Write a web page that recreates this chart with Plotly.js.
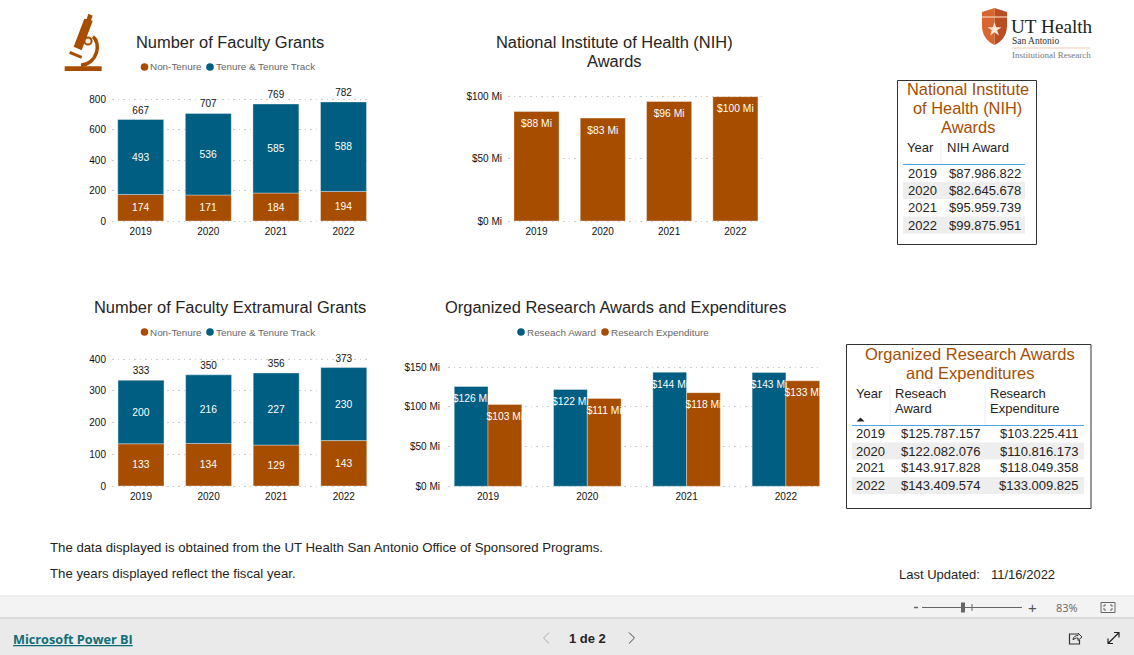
<!DOCTYPE html>
<html><head><meta charset="utf-8">
<script src="https://cdn.plot.ly/plotly-3.0.1.min.js"></script>
<style>html,body{margin:0;padding:0;background:#fff;overflow:hidden}</style>
</head><body><div id="chart" style="width:1134px;height:655px"></div>
<script>
const years = ['2019','2020','2021','2022'];
const grantsNonTenure = [174,171,184,194];
const grantsTenure = [493,536,585,588];
const grantsTotal = [667,707,769,782];
const nihAwards = [87986822,82645678,95959739,99875951];
const extraNonTenure = [133,134,129,143];
const extraTenure = [200,216,227,230];
const extraTotal = [333,350,356,373];
const researchAward = [125787157,122082076,143917828,143409574];
const researchExpenditure = [103225411,110816173,118049358,133009825];

const W=1134,H=655, BROWN='#A64D00', TEAL='#005E82', INK='#252423', FONT='"Liberation Sans", Arial, sans-serif';
const px=x=>x/W, py=y=>1-y/H;
const annotations=[], shapes=[];
function T(text,x,y,o={}){annotations.push({text,xref:'paper',yref:'paper',x:px(x),y:py(y),showarrow:false,
  xanchor:o.a||'left',yanchor:'middle',borderpad:0,borderwidth:0,align:o.a||'left',
  font:{family:o.f||FONT,size:o.s||13,color:o.c||INK}});}
function rect(x0,y0,x1,y1,fill,line,lw){shapes.push({type:'rect',xref:'paper',yref:'paper',x0:px(x0),x1:px(x1),y0:py(y0),y1:py(y1),
  fillcolor:fill||'rgba(0,0,0,0)',line:{color:line||'rgba(0,0,0,0)',width:line?(lw||1):0}});}
function circ(cx,cy,r,fill){shapes.push({type:'circle',xref:'paper',yref:'paper',x0:px(cx-r),x1:px(cx+r),y0:py(cy-r),y1:py(cy+r),fillcolor:fill,line:{width:0}});}
function hline(x0,x1,y,c,w){shapes.push({type:'line',xref:'paper',yref:'paper',x0:px(x0),x1:px(x1),y0:py(y),y1:py(y),line:{color:c,width:w||1}});}
function vline(x,y0,y1,c,w){shapes.push({type:'line',xref:'paper',yref:'paper',x0:px(x),x1:px(x),y0:py(y0),y1:py(y1),line:{color:c,width:w||1}});}
function path(tokens,fill,line,lw){const d=tokens.map(t=>Array.isArray(t)?px(t[0]).toFixed(5)+','+py(t[1]).toFixed(5):t).join(' ');
  shapes.push({type:'path',xref:'paper',yref:'paper',path:d,fillcolor:fill||'rgba(0,0,0,0)',line:{color:line||'rgba(0,0,0,0)',width:line?(lw||1):0}});}

const money=v=>'$'+Math.round(v/1e6)+' Mi';
const full=v=>'$'+String(v).replace(/\B(?=(\d{3})+$)/g,'.');
const idx=years.map((_,i)=>i);

function bar(xa,ya,y,color,o={}){return Object.assign({type:'bar',x:years,y,xaxis:xa,yaxis:ya,
  marker:{color,line:{color:'rgba(255,255,255,0.35)',width:1}},textposition:'inside',textangle:0,constraintext:'none',cliponaxis:false,
  insidetextanchor:'middle',insidetextfont:{family:FONT,size:10.3,color:'#fff'},hoverinfo:'skip',width:0.68},o);}
function totals(xa,ya,y){return {type:'scatter',mode:'markers+text',x:years,y,xaxis:xa,yaxis:ya,text:y.map(String),textposition:'top center',
  marker:{size:4,opacity:0},textfont:{family:FONT,size:10,color:'#111'},cliponaxis:false,hoverinfo:'skip'};}
function topLabels(xa,ya,x,y){return {type:'scatter',mode:'markers+text',x,y,xaxis:xa,yaxis:ya,text:y.map(money),textposition:'bottom center',
  marker:{size:11,opacity:0},textfont:{family:FONT,size:10.3,color:'#fff'},cliponaxis:false,hoverinfo:'skip'};}
const data=[
  bar('x','y',grantsNonTenure,BROWN,{text:grantsNonTenure.map(String)}),
  bar('x','y',grantsTenure,TEAL,{base:grantsNonTenure,text:grantsTenure.map(String)}),
  totals('x','y',grantsTotal),
  bar('x2','y2',nihAwards,BROWN),
  topLabels('x2','y2',years,nihAwards),
  bar('x3','y3',extraNonTenure,BROWN,{text:extraNonTenure.map(String)}),
  bar('x3','y3',extraTenure,TEAL,{base:extraNonTenure,text:extraTenure.map(String)}),
  totals('x3','y3',extraTotal),
  bar('x4','y4',researchAward,TEAL,{x:idx,width:0.34,offset:-0.34}),
  bar('x4','y4',researchExpenditure,BROWN,{x:idx,width:0.34,offset:0}),
  topLabels('x4','y4',idx.map(i=>i-0.17),researchAward),
  topLabels('x4','y4',idx.map(i=>i+0.17),researchExpenditure)
];
function xax(l,r,c0,step){return {type:'category',categoryorder:'array',categoryarray:years,domain:[px(l),px(r)],range:[(l-c0)/step,(r-c0)/step],
  showgrid:false,zeroline:false,showline:false,ticks:'',ticklabelstandoff:1,fixedrange:true,tickfont:{family:FONT,size:10,color:'#111'}};}
// the plot area runs 2px past the end ticks so their dotted lines are drawn too
function yax(t,b,max,tv,tt,so){const u=max/(b-t),e=2;const o={domain:[py(b+e),py(t-e)],range:[-e*u,max+e*u],showgrid:true,griddash:'1.5px,4px',gridcolor:'#cccccc',gridwidth:1,zeroline:false,showline:false,
  ticks:'',ticklabelstandoff:so||5,fixedrange:true,tickmode:'array',tickvals:tv,tickfont:{family:FONT,size:10,color:'#111'}};
  if(tt)o.ticktext=tt;return o;}

const TS=16.45;
T('Number of Faculty Grants',229.5,42,{a:'center',s:TS});
T('National Institute of Health (NIH)',614,42,{a:'center',s:TS});
T('Awards',614,61,{a:'center',s:TS});
T('Number of Faculty Extramural Grants',229.5,307,{a:'center',s:TS});
T('Organized Research Awards and Expenditures',615,307,{a:'center',s:TS});
function legend(y,items){items.forEach(([cx,c,t])=>{circ(cx,y,3.8,c);T(t,cx+5.5,y,{s:9.9,c:'#666'});});}
legend(67,[[144.5,BROWN,'Non-Tenure'],[210,TEAL,'Tenure & Tenure Track']]);
legend(332,[[144.5,BROWN,'Non-Tenure'],[210,TEAL,'Tenure & Tenure Track']]);
legend(332,[[521,TEAL,'Reseach Award'],[605,BROWN,'Research Expenditure']]);

rect(897.5,80.5,1036.5,244.5,'#fff','#333',1);
['National Institute','of Health (NIH)','Awards'].forEach((t,i)=>T(t,967.5,89.5+i*19,{a:'center',s:16.4,c:BROWN}));
T('Year',907,147.5);T('NIH Award',947,147.5);
vline(941,140,164,'#eee');hline(903,1025,164.5,'#4da6e8',1);
const r1=[173.5,190.5,207.5,225];
[1,3].forEach(i=>rect(903,r1[i]-8.5,1025,r1[i]+8.5,'#eeeeee'));
years.forEach((y,i)=>{T(y,908,r1[i]);T(full(nihAwards[i]),1021,r1[i],{a:'right'});});

rect(846.5,344.5,1091,508.5,'#fff','#333',1);
T('Organized Research Awards',969.5,353.5,{a:'center',s:16.5,c:BROWN});
T('and Expenditures',969.5,372.5,{a:'center',s:16.5,c:BROWN});
T('Year',856,393.5);T('Reseach',894.5,393.5);T('Award',894.5,408.5);T('Research',990,393.5);T('Expenditure',990,408.5);
path(['M',[856.5,421.5],'L',[864.5,421.5],'L',[860.5,417.5],'Z'],'#252423');
vline(890,385,425,'#eee');vline(985,385,425,'#eee');hline(852,1084,425.5,'#4da6e8',1);
const r2=[433.5,451,468,485.5];
[1,3].forEach(i=>rect(852,r2[i]-8.5,1084,r2[i]+8.5,'#eeeeee'));
years.forEach((y,i)=>{T(y,856,r2[i]);T(full(researchAward[i]),981,r2[i],{a:'right'});T(full(researchExpenditure[i]),1079,r2[i],{a:'right'});});

T('The data displayed is obtained from the UT Health San Antonio Office of Sponsored Programs.',50,547.5,{s:13.2});
T('The years displayed reflect the fiscal year.',50,573.5,{s:13.2});
T('Last Updated:',899,574.5,{s:13});T('11/16/2022',991,574.5,{s:13});

const m=(x,y)=>[55+x/3,8+y/3];
path(['M',m(29,175),'L',m(140,175),'L',m(140,189),'L',m(29,189),'Z'],BROWN);
path(['M',m(100,17),'L',m(113,23),'L',m(108,36),'L',m(113,39),'L',m(80,127),'L',m(56,116),'L',m(88,32),'L',m(95,33),'Z'],BROWN);
path(['M',m(114,86),'C',m(138,105),m(130,165),m(78,172)],null,BROWN,3.5);
path(['M',m(44,133),'L',m(80,148)],null,BROWN,3);
circ(...m(99,99),4.6,BROWN);circ(...m(99,99),2.6,'#f6e9df');

path(['M',[982,12],'L',[994.5,8],'L',[994.5,45],'C',[988,42],[982,36],[982,26],'Z'],'#D8662E');
path(['M',[994.5,8],'L',[1007,12],'L',[1007,26],'C',[1007,36],[1001,42],[994.5,45],'Z'],'#B94E22');
hline(982,1007,17,'#f3c9ac',1.3);
path(['M',[994.5,22],'L',[996.2,27.2],'L',[1001.5,27.2],'L',[997.2,30.3],'L',[998.9,35.5],'L',[994.5,32.3],'L',[990.1,35.5],'L',[991.8,30.3],'L',[987.5,27.2],'L',[992.8,27.2],'Z'],'#fbe6d6');
T('UT Health',1011,26.5,{f:'"Liberation Serif", serif',s:19.2,c:'#222'});
T('San Antonio',1012,41,{f:'"Liberation Serif", serif',s:9.5,c:'#333'});
hline(1012,1090,48,'#f2c9b4',1);
T('Institutional Research',1012,55,{f:'"Liberation Serif", serif',s:9,c:'#777'});

rect(0,596,1134,618,'#f3f3f3');hline(0,1134,596,'#e2e2e2',1);
rect(0,618,1134,655,'#eaeaea');hline(0,1134,618,'#c8c8c8',1);
hline(914,918,607.5,'#666',1.5);hline(922,1022,607.5,'#666',1);
rect(961,602.5,965,612.5,'#666');vline(972,604,611,'#666');
T('+',1032,607,{a:'center',s:15,c:'#555'});T('83%',1067,607,{a:'center',s:11,c:'#666',f:'"Open Sans", sans-serif'});
rect(1101,602.5,1115,612.5,'rgba(0,0,0,0)','#666',1);
path(['M',[1104,607],'L',[1104,605],'L',[1106,605],'M',[1112,607],'L',[1112,605],'L',[1110,605],'M',[1104,608],'L',[1104,610],'L',[1106,610],'M',[1112,608],'L',[1112,610],'L',[1110,610]],null,'#666',1);
T('<u><b>Microsoft Power BI</b></u>',13,639,{s:12.7,c:'#0f6f77',f:'"Open Sans", sans-serif'});
T('<b>1 de 2</b>',587.5,638,{a:'center',s:13,c:'#252423'});
path(['M',[549,632.5],'L',[543.5,638],'L',[549,643.5]],null,'#aaa',1);
path(['M',[629,632.5],'L',[634.5,638],'L',[629,643.5]],null,'#444',1);
path(['M',[1077,634],'L',[1069.5,634],'L',[1069.5,644],'L',[1079.5,644],'L',[1079.5,640]],null,'#333',1.2);
path(['M',[1073,640],'C',[1073,636.5],[1076,635.5],[1078,635.5],'L',[1078,633],'L',[1082,637],'L',[1078,640.5],'L',[1078,638],'C',[1076,638],[1074,638.5],[1073,640],'Z'],null,'#333',1);
path(['M',[1108,643.5],'L',[1119,632.5],'M',[1114,632.5],'L',[1119,632.5],'L',[1119,637.5],'M',[1108,638.5],'L',[1108,643.5],'L',[1113,643.5]],null,'#222',1.2);

const x4=xax(448,821,488,99.3);
Object.assign(x4,{type:'linear',tickmode:'array',tickvals:idx,ticktext:years,anchor:'y4'});delete x4.categoryorder;delete x4.categoryarray;
const layout={width:W,height:H,margin:{l:0,r:0,t:0,b:0,pad:0},paper_bgcolor:'#fff',plot_bgcolor:'rgba(0,0,0,0)',showlegend:false,barmode:'overlay',
  font:{family:FONT},annotations,shapes,
  xaxis:xax(112,368,140.7,67.6),yaxis:yax(99.3,221,800,[0,200,400,600,800]),
  xaxis2:Object.assign(xax(508,762,536.5,66.3),{anchor:'y2'}),yaxis2:Object.assign(yax(96.5,221,100e6,[0,50e6,100e6],['$0 Mi','$50 Mi','$100 Mi']),{anchor:'x2'}),
  xaxis3:Object.assign(xax(112,368,141,67.6),{anchor:'y3'}),yaxis3:Object.assign(yax(359,486,400,[0,100,200,300,400]),{anchor:'x3'}),
  xaxis4:x4,yaxis4:Object.assign(yax(367.3,486.3,150e6,[0,50e6,100e6,150e6],['$0 Mi','$50 Mi','$100 Mi','$150 Mi'],7),{anchor:'x4'})
};
Plotly.newPlot('chart',data,layout,{displayModeBar:false,staticPlot:true,responsive:false});
</script></body></html>
